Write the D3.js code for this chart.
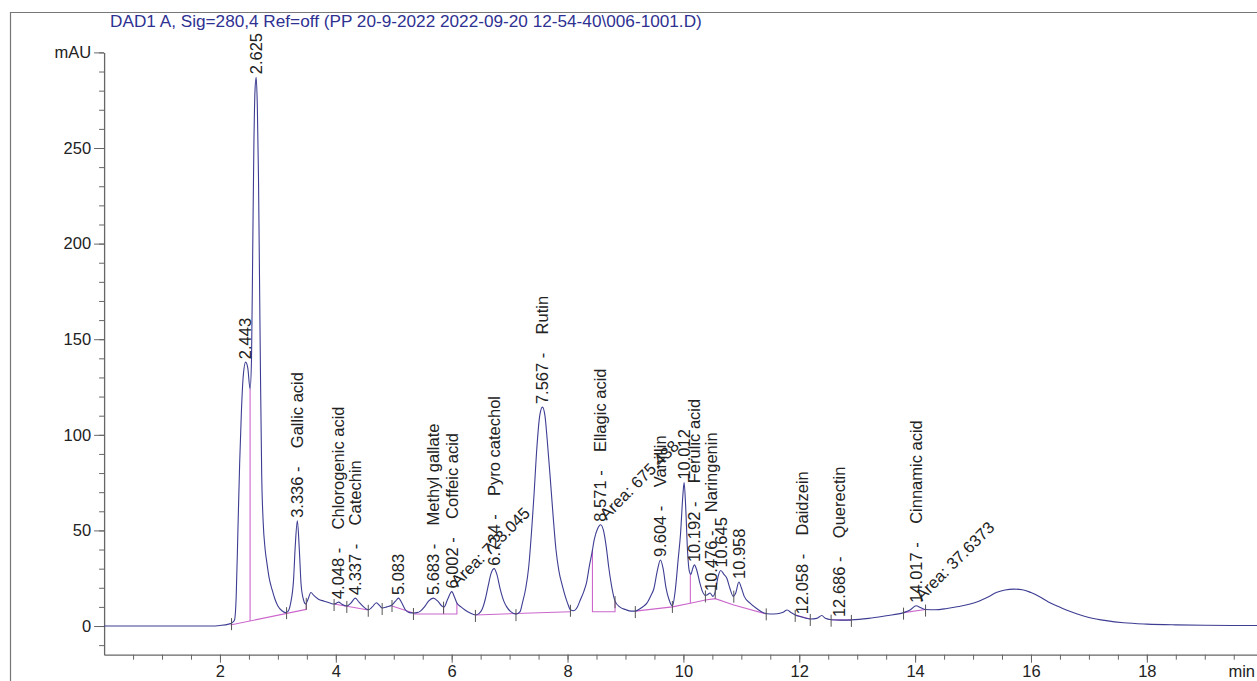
<!DOCTYPE html>
<html lang="en">
<head>
<meta charset="UTF-8" />
<script src="https://cdnjs.cloudflare.com/ajax/libs/d3/7.8.5/d3.min.js"></script>
<title>DAD1 A chromatogram</title>
<style>
body { margin: 0; background: #fff; }
svg { display: block; font-family: 'Liberation Sans', Arial, sans-serif; }
.lbl { white-space: pre; font-size: 16.5px; fill: #222; }
</style>
</head>
<body>
<div id="chart"></div>
<script>

// retention time (min) and signal (mAU)
const rtTime = [
  0, 1, 1.85, 2.0, 2.15, 2.2, 2.25, 2.28, 2.31, 2.34, 2.37, 2.40, 2.443, 2.48, 2.52,
  2.545, 2.565, 2.585, 2.605, 2.625, 2.645, 2.665, 2.685, 2.70, 2.72, 2.745, 2.78, 2.81,
  2.85, 2.90, 2.95, 3.0, 3.07, 3.13, 3.17, 3.22, 3.27, 3.30, 3.336, 3.37, 3.40, 3.44,
  3.48, 3.52, 3.57, 3.62, 3.70, 3.80, 3.90, 3.97, 4.03, 4.048, 4.10, 4.19, 4.26, 4.337,
  4.40, 4.48, 4.56, 4.63, 4.70, 4.76, 4.80, 4.88, 4.97, 5.03, 5.083, 5.14, 5.20, 5.27,
  5.34, 5.40, 5.46, 5.53, 5.60, 5.683, 5.76, 5.83, 5.87, 5.93, 6.002, 6.05, 6.09, 6.16,
  6.23, 6.32, 6.41, 6.47, 6.53, 6.58, 6.63, 6.68, 6.734, 6.78, 6.84, 6.90, 6.95, 7.02,
  7.11, 7.18, 7.22, 7.28, 7.33, 7.38, 7.42, 7.47, 7.52, 7.567, 7.61, 7.65, 7.70, 7.75,
  7.80, 7.85, 7.92, 8.0, 8.05, 8.10, 8.17, 8.22, 8.28, 8.33, 8.38, 8.42, 8.46, 8.52,
  8.571, 8.62, 8.67, 8.71, 8.76, 8.82, 8.90, 9.0, 9.10, 9.17, 9.25, 9.32, 9.37, 9.44,
  9.49, 9.55, 9.604, 9.65, 9.70, 9.75, 9.81, 9.86, 9.91, 9.95, 9.99, 10.012, 10.04,
  10.07, 10.10, 10.13, 10.16, 10.19, 10.23, 10.28, 10.33, 10.38, 10.42, 10.46, 10.51,
  10.55, 10.60, 10.645, 10.70, 10.75, 10.80, 10.86, 10.90, 10.958, 11.0, 11.05, 11.15,
  11.27, 11.39, 11.5, 11.62, 11.72, 11.79, 11.86, 11.93, 12.02, 12.10, 12.19, 12.30,
  12.39, 12.45, 12.55, 12.70, 12.9, 13.2, 13.5, 13.8, 13.92, 14.017, 14.10, 14.18, 14.35,
  14.55, 14.75, 14.95, 15.10, 15.25, 15.40, 15.55, 15.70, 15.85, 16.0, 16.15, 16.30,
  16.45, 16.60, 16.80, 17.0, 17.3, 17.6, 18.0, 18.5, 19.0, 19.5, 20.0
];
const rtSignal = [
  0, 0, 0, 0.3, 1.0, 1.5, 3, 15, 50, 85, 112, 130, 138, 135, 124,
  140, 195, 250, 280, 287, 272, 235, 175, 130, 80, 55, 40, 33,
  25, 19, 14, 10.5, 8, 7, 7.5, 12, 24, 42, 55, 40, 22, 14,
  11.5, 14, 17.5, 16, 14, 13, 12, 11.5, 12.3, 12.5, 11.5, 10.5, 12, 14.6,
  12.5, 10, 8.5, 10, 12.2, 10.5, 9.4, 10, 11, 13, 14.6, 12, 8.5, 7,
  6.8, 7, 7.8, 10, 13, 14.6, 13, 10.5, 10, 14, 18, 15, 12, 10,
  8.4, 6.8, 5.8, 6.5, 9, 14, 21, 27.5, 30, 27, 19, 13, 10, 7.5,
  6.2, 7.5, 12, 20, 31, 50, 68, 93, 110, 114.5, 110, 97, 78, 58,
  40, 29, 20, 12, 8.5, 8, 10, 13.6, 18, 23, 32, 38, 45, 51,
  53, 50, 41, 31, 21, 13, 10, 8.6, 7.8, 7.8, 9, 10.5, 12, 16,
  19.5, 29, 34.5, 30, 20, 14, 10.5, 18.8, 35, 48, 68, 75, 62,
  40, 29, 27, 30, 32, 29.3, 23, 18, 16, 16.5, 17.3, 15.5,
  18, 26, 29, 27, 25, 20, 15.5, 17, 23, 20, 15.5, 12,
  9, 6.8, 6.3, 6.4, 7.2, 8.4, 7, 5.8, 4.9, 4.2, 3.7, 4,
  5.5, 4, 3.3, 3.1, 3.2, 4, 5.4, 7, 8.5, 10.6, 9.5, 8.6, 8.5,
  9.2, 10.2, 11.5, 13, 15, 17.5, 18.8, 19.3, 19, 17.5, 15.3, 12.6,
  10.5, 8.5, 6.3, 4.5, 2.8, 1.7, 1, 0.6, 0.4, 0.3, 0.3
];

// integrated peaks
const peakTimes = [2.443, 2.625, 3.336, 4.048, 4.337, 5.083, 5.683, 6.002, 6.734, 7.567,
  8.571, 9.604, 10.012, 10.192, 10.476, 10.645, 10.958, 12.058, 12.686, 14.017];
const peakNames = ['', '', 'Gallic acid', 'Chlorogenic acid', 'Catechin', '', 'Methyl gallate',
  'Coffeic acid', 'Pyro catechol', 'Rutin', 'Ellagic acid', 'Vanillin', '', 'Ferulic acid',
  'Naringenin', '', '', 'Daidzein', 'Querectin', 'Cinnamic acid'];

const areaTimes = [6.002, 8.571, 14.017];
const areaTexts = ['Area: 723.045', 'Area: 675.438', 'Area: 37.6373'];

// drawn baselines (time, mAU)
const baselines = [
  [[2.18, 0.5], [3.49, 8.7]],
  [[2.52, 2.6], [2.52, 124]],
  [[3.49, 8.7], [3.49, 11.5]],
  [[3.97, 11.5], [4.56, 8.4]],
  [[4.97, 10.5], [5.34, 6.8]],
  [[5.34, 6.3], [6.09, 6.3], [6.09, 12]],
  [[5.86, 6.3], [5.86, 10]],
  [[6.41, 5.8], [8.05, 7.5]],
  [[8.43, 40], [8.43, 7.5], [8.82, 7.5], [8.82, 13]],
  [[9.17, 7.8], [9.81, 10], [10.12, 11.9], [10.38, 13.6], [10.55, 14.3], [10.87, 11], [11.43, 6.3]],
  [[10.12, 11.9], [10.12, 27]],
  [[11.93, 5.8], [12.19, 3.7]],
  [[12.55, 3.3], [12.9, 3.1]],
  [[13.8, 7], [14.18, 8.6]]
];

// peak start / end markers
const eventTimes = [2.2, 3.15, 3.49, 3.97, 4.19, 4.56, 4.80, 4.97, 5.34, 5.86, 6.41, 7.11,
  8.05, 8.82, 9.17, 9.81, 10.38, 10.55, 10.87, 11.43, 11.93, 12.19, 12.55, 12.9, 13.8, 14.18];

const yMajor = [0, 50, 100, 150, 200, 250, 300];
const xMajor = [2, 4, 6, 8, 10, 12, 14, 16, 18];

const title = 'DAD1 A, Sig=280,4 Ref=off (PP 20-9-2022 2022-09-20 12-54-40\\006-1001.D)';

const W = 1257, H = 681;
const traceColor = '#3d3d93';
const baseColor = '#cc66cc';

const svg = d3.select('#chart').append('svg').attr('width', W).attr('height', H);

const x = d3.scaleLinear().domain([0, 20]).range([104.1, 1262.7]);
const y = d3.scaleLinear().domain([-15, 300]).range([654.7, 52.4]);

function signalAt(t) {
  const i = d3.bisector(d => d).left(rtTime, t);
  if (i <= 0) return rtSignal[0];
  if (i >= rtTime.length) return rtSignal[rtSignal.length - 1];
  const t0 = rtTime[i - 1], t1 = rtTime[i];
  return rtSignal[i - 1] + (rtSignal[i] - rtSignal[i - 1]) * (t - t0) / (t1 - t0);
}

// frame
svg.append('line').attr('x1', 10.5).attr('x2', 10.5).attr('y1', 12).attr('y2', H)
  .attr('stroke', '#777').attr('stroke-width', 1.2);
svg.append('line').attr('x1', 10).attr('x2', W).attr('y1', 12.5).attr('y2', 12.5)
  .attr('stroke', '#777').attr('stroke-width', 1.2);

svg.append('text')
  .attr('x', 110).attr('y', 27)
  .attr('fill', '#2e3192')
  .style('font-size', '17.2px')
  .text(title);

// axes
const yMinor = d3.range(-10, 301, 10);
const yAxisMinor = svg.append('g').attr('transform', `translate(${x(0)},0)`)
  .call(d3.axisLeft(y).tickValues(yMinor).tickSize(5).tickSizeOuter(0).tickFormat(''));
yAxisMinor.select('.domain').remove();
const yAxis = svg.append('g').attr('transform', `translate(${x(0)},0)`)
  .call(d3.axisLeft(y).tickValues(yMajor).tickSize(10).tickSizeOuter(0)
    .tickFormat(d => d === 300 ? 'mAU' : d));

const xMinor = d3.range(0.5, 20.01, 0.5);
const xAxisMinor = svg.append('g').attr('transform', `translate(0,${y(-15)})`)
  .call(d3.axisBottom(x).tickValues(xMinor).tickSize(5).tickSizeOuter(0).tickFormat(''));
xAxisMinor.select('.domain').remove();
const xAxis = svg.append('g').attr('transform', `translate(0,${y(-15)})`)
  .call(d3.axisBottom(x).tickValues(xMajor).tickSize(8).tickSizeOuter(0).tickPadding(3));
xAxis.append('text').attr('x', W - 2).attr('y', 11).attr('dy', '0.71em')
  .attr('text-anchor', 'end').attr('fill', '#222').text('min');

svg.selectAll('.domain').attr('stroke', '#666').attr('stroke-width', 1.3);
svg.selectAll('.tick line').attr('stroke', '#666');
svg.selectAll('.tick text, g text').style('font-size', '16.5px').attr('fill', '#222');

// baselines
const pLine = d3.line().x(d => x(d[0])).y(d => y(d[1]));
svg.append('g').selectAll('path').data(baselines).join('path')
  .attr('d', pLine)
  .attr('fill', 'none').attr('stroke', baseColor).attr('stroke-width', 1.1);

// trace
const trace = d3.line()
  .x((d, i) => x(rtTime[i]))
  .y(d => y(d))
  .curve(d3.curveMonotoneX);
svg.append('path').datum(rtSignal)
  .attr('d', trace)
  .attr('fill', 'none').attr('stroke', traceColor).attr('stroke-width', 1.1);

// event ticks
svg.append('g').selectAll('line').data(eventTimes).join('line')
  .attr('x1', d => x(d)).attr('x2', d => x(d))
  .attr('y1', d => y(signalAt(d)) - 5).attr('y2', d => y(signalAt(d)) + 7)
  .attr('stroke', '#555').attr('stroke-width', 1);

// peak labels
svg.append('g').selectAll('text').data(peakTimes).join('text')
  .attr('class', 'lbl')
  .attr('transform', d => `translate(${x(d)},${y(signalAt(d)) - 3}) rotate(-90)`)
  .attr('dy', '0.35em')
  .text((d, i) => d.toFixed(3) + (peakNames[i] ? ' -    ' + peakNames[i] : ''));

// area annotations
svg.append('g').selectAll('text').data(areaTimes).join('text')
  .attr('class', 'lbl')
  .attr('transform', d => `translate(${x(d) + 6},${y(signalAt(d)) - 4}) rotate(-45)`)
  .text((d, i) => areaTexts[i]);

</script>
</body>
</html>
